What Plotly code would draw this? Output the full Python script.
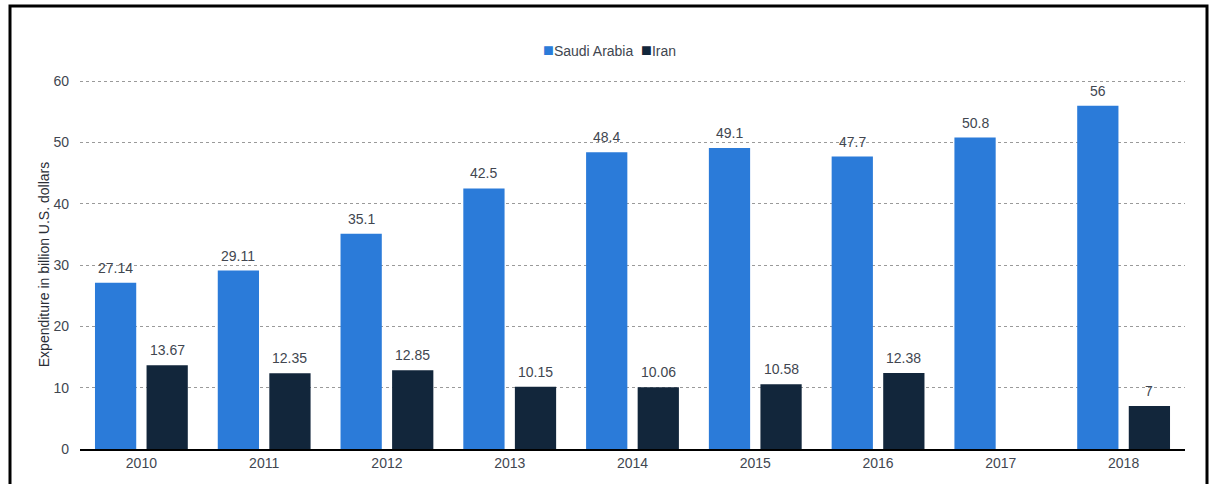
"""Defense expenditure — Saudi Arabia vs Iran, 2010-2018."""
import plotly.graph_objects as go

YEARS = ["2010", "2011", "2012", "2013", "2014", "2015", "2016", "2017", "2018"]
SAUDI = [27.14, 29.11, 35.1, 42.5, 48.4, 49.1, 47.7, 50.8, 56]
IRAN = [13.67, 12.35, 12.85, 10.15, 10.06, 10.58, 12.38, None, 7]
Y_TICKS = [0, 10, 20, 30, 40, 50, 60]

COLOR_SAUDI = "#2b7bd9"
COLOR_IRAN = "#12263b"
COLOR_TEXT = "#414650"
FONT = "Arial, Liberation Sans, sans-serif"

W, H = 1211, 484
L, R, T, B = 80, 26, 80, 35
PW, PH = W - L - R, H - T - B
SLOT = 25.75  # half the distance between the two bars of a group, px


def _px_to_paper(px, py):
    return (px - L) / PW, (H - B - py) / PH


fig = go.Figure()
series = [("Saudi Arabia", SAUDI, COLOR_SAUDI, -SLOT), ("Iran", IRAN, COLOR_IRAN, SLOT)]
for name, vals, color, dx in series:
    fig.add_trace(go.Bar(
        x=YEARS, y=vals, name=name, showlegend=False,
        marker=dict(color=color, line=dict(width=0)),
    ))
    # value labels sit a little higher than plotly's own outside text.
    # category axis + numeric-looking labels -> annotate by category index
    for i, v in enumerate(vals):
        if v is None:
            continue
        fig.add_annotation(x=i, y=v, xref="x", yref="y", text=f"{v:g}",
                           showarrow=False, xshift=dx, yshift=5, yanchor="bottom",
                           font=dict(size=14, color=COLOR_TEXT, family=FONT))

# legend drawn as one centred line, square glyphs tight to their labels
lx, ly = _px_to_paper(609, 50)
legend_txt = "  ".join(
    f"<span style='color:{c};font-size:18px'>■</span>{n}" for n, _, c, _ in series
)
fig.add_annotation(x=lx, y=ly, xref="paper", yref="paper", text=legend_txt,
                   showarrow=False, xanchor="center", yanchor="middle",
                   font=dict(size=14, color=COLOR_TEXT, family=FONT))

x0, y0 = _px_to_paper(10, 6)
x1, _ = _px_to_paper(1207, 6)

fig.update_layout(
    width=W, height=H,
    margin=dict(l=L, r=R, t=T, b=B),
    paper_bgcolor="white", plot_bgcolor="white",
    font=dict(family=FONT, size=14, color=COLOR_TEXT),
    barmode="group", bargap=0.16, bargroupgap=0.2,
    xaxis=dict(type="category", showgrid=False, showline=True, linecolor="black",
               linewidth=2, ticks="", tickfont=dict(size=14, color=COLOR_TEXT)),
    yaxis=dict(range=[0, 60.2], tickvals=Y_TICKS, showgrid=True,
               gridcolor="#9a9a9a", griddash="dot", gridwidth=1,
               zeroline=False, ticks="", ticklabelstandoff=10,
               tickfont=dict(size=14, color=COLOR_TEXT),
               title=dict(text="Expenditure in billion U.S. dollars", standoff=0,
                          font=dict(size=14, color="#2a2e36"))),
    shapes=[dict(type="rect", xref="paper", yref="paper",
                 x0=x0, x1=x1, y0=-0.3, y1=y0,
                 line=dict(color="black", width=3), fillcolor="rgba(0,0,0,0)")],
)

fig.write_html("out.html", config={"displayModeBar": False},
               post_script="document.body.style.margin='0';")
